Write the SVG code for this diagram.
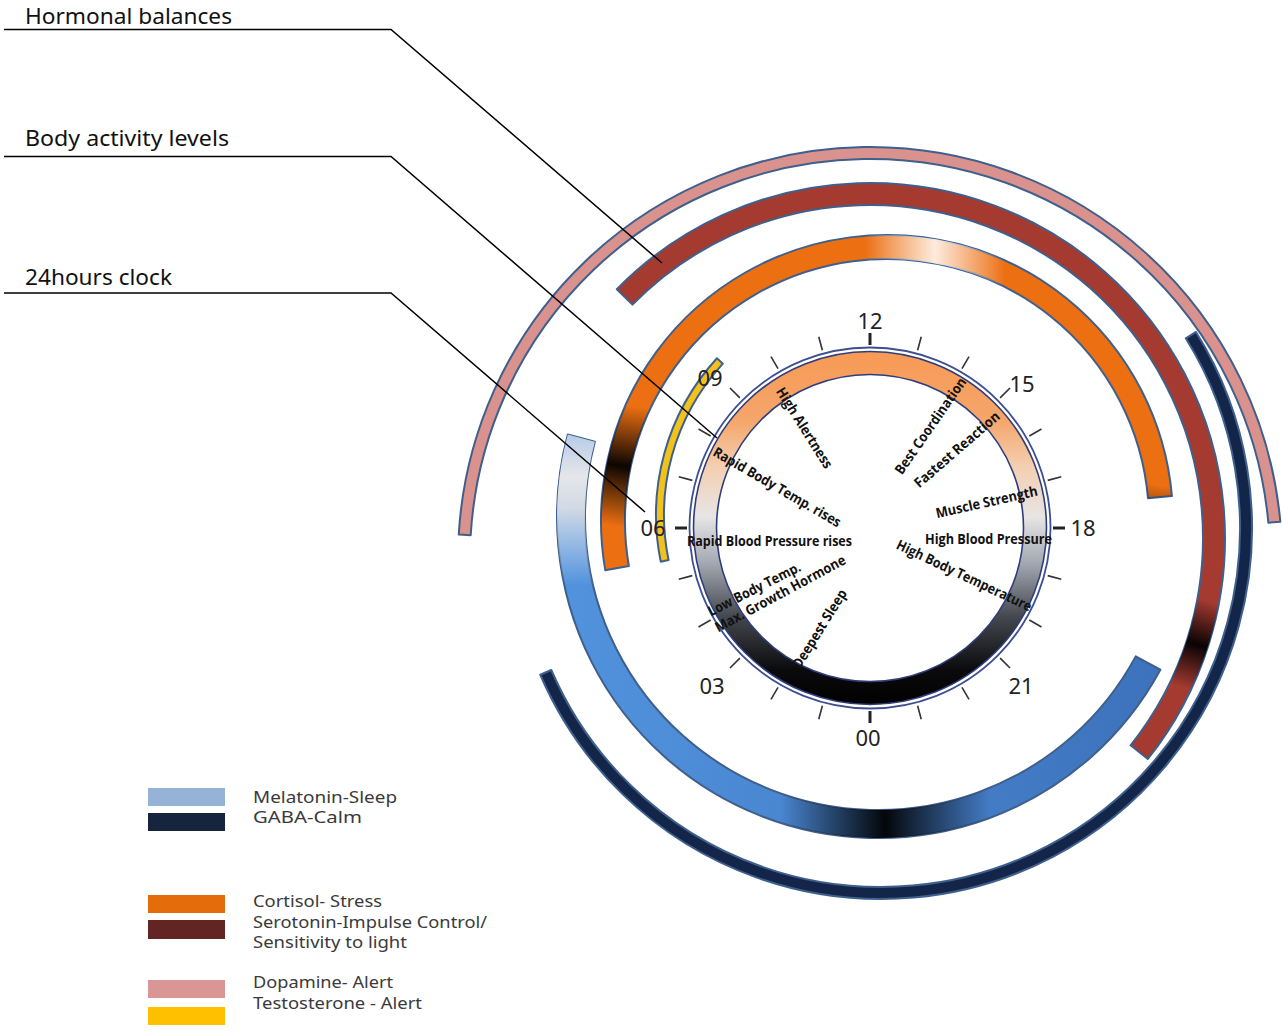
<svg xmlns="http://www.w3.org/2000/svg" width="1282" height="1031" viewBox="0 0 1282 1031">
<style>
.arc{stroke:#3f5f8c;stroke-width:2;stroke-linejoin:round}
.ov{stroke:none}
.lbl{font-family:"Noto Sans","Open Sans",sans-serif;font-size:22px;fill:#111}
.hr{font-family:"Noto Sans","Open Sans",sans-serif;font-size:22px;fill:#222;text-anchor:middle;dominant-baseline:central}
.ev{font-family:"Open Sans","Noto Sans",sans-serif;font-size:14px;font-weight:700;fill:#111;text-anchor:middle;dominant-baseline:central}
.lg{font-family:"Noto Sans","Open Sans",sans-serif;font-size:16px;fill:#3a3a3a}
.tk{stroke:#333;stroke-width:1.6}
.tkM{stroke:#222;stroke-width:3}
.con{fill:none;stroke:#000;stroke-width:1.5}
</style>
<defs>
<linearGradient id="clockG" gradientUnits="userSpaceOnUse" x1="0" y1="350" x2="0" y2="705">
<stop offset="0" stop-color="#f79a55"/>
<stop offset="0.2" stop-color="#f5a66b"/>
<stop offset="0.33" stop-color="#f4cfb2"/>
<stop offset="0.47" stop-color="#e7e5e5"/>
<stop offset="0.6" stop-color="#a4a8b2"/>
<stop offset="0.75" stop-color="#45484f"/>
<stop offset="0.9" stop-color="#0b0b0d"/>
<stop offset="1" stop-color="#000"/>
</linearGradient>
<linearGradient id="orDark" gradientUnits="userSpaceOnUse" x1="625" y1="405" x2="607" y2="525">
<stop offset="0" stop-color="#000" stop-opacity="0"/>
<stop offset="0.5" stop-color="#000" stop-opacity="0.95"/>
<stop offset="1" stop-color="#000" stop-opacity="0"/>
</linearGradient>
<linearGradient id="orLight" gradientUnits="userSpaceOnUse" x1="865" y1="0" x2="1005" y2="0">
<stop offset="0" stop-color="#fff" stop-opacity="0"/>
<stop offset="0.5" stop-color="#fff6ee" stop-opacity="0.92"/>
<stop offset="1" stop-color="#fff" stop-opacity="0"/>
</linearGradient>
<linearGradient id="redDark" gradientUnits="userSpaceOnUse" x1="1212" y1="602" x2="1184" y2="688">
<stop offset="0" stop-color="#000" stop-opacity="0"/>
<stop offset="0.5" stop-color="#000" stop-opacity="0.95"/>
<stop offset="1" stop-color="#000" stop-opacity="0"/>
</linearGradient>
<linearGradient id="blueBase" gradientUnits="userSpaceOnUse" x1="560" y1="0" x2="1160" y2="0">
<stop offset="0" stop-color="#5293de"/>
<stop offset="1" stop-color="#3d72bc"/>
</linearGradient>
<linearGradient id="blueLight" gradientUnits="userSpaceOnUse" x1="0" y1="430" x2="0" y2="585">
<stop offset="0" stop-color="#b2c9e8"/>
<stop offset="0.3" stop-color="#e5e6ea"/>
<stop offset="0.5" stop-color="#e0e2e6" stop-opacity="0.9"/>
<stop offset="1" stop-color="#dfe6f0" stop-opacity="0"/>
</linearGradient>
<linearGradient id="blueDark" gradientUnits="userSpaceOnUse" x1="780" y1="0" x2="990" y2="0">
<stop offset="0" stop-color="#000" stop-opacity="0"/>
<stop offset="0.5" stop-color="#000" stop-opacity="0.95"/>
<stop offset="1" stop-color="#000" stop-opacity="0"/>
</linearGradient>
<path id="pOrange" d="M605.26,570.17 A286,286 0 1 1 1171.91,496.07 L1148.00,498.16 A262,262 0 1 0 628.90,566.05 Z"/>
<path id="pRed" d="M616.80,289.18 A355,355 0 0 1 1147.83,758.99 L1130.61,745.30 A333,333 0 0 0 632.49,304.60 Z"/>
<path id="pBlue" d="M1160.37,669.67 A321,321 0 0 1 567.79,434.46 L594.85,441.66 A293,293 0 0 0 1135.74,656.36 Z"/>
</defs>
<rect width="1282" height="1031" fill="#fff"/>

<g id="dopamine-arc">
<path class="arc" fill="#da928e" d="M458.73,534.57 A412,412 0 0 1 1280.30,521.66 L1268.35,522.75 A400,400 0 0 0 470.70,535.28 Z"/>
</g>
<g id="serotonin-arc">
<use href="#pRed" class="arc" fill="#a53a31"/>
<use href="#pRed" class="ov" fill="url(#redDark)"/>
</g>
<g id="gaba-arc">
<path class="arc" fill="#13264a" stroke="#3b64a0" d="M1195.97,331.95 A371,371 0 1 1 540.26,674.75 L551.28,670.00 A359,359 0 1 0 1185.78,338.29 Z"/>
</g>
<g id="cortisol-arc">
<use href="#pOrange" class="arc" fill="#ec6f12"/>
<use href="#pOrange" class="ov" fill="url(#orDark)"/>
<use href="#pOrange" class="ov" fill="url(#orLight)"/>
</g>
<g id="melatonin-arc">
<use href="#pBlue" class="arc" fill="url(#blueBase)"/>
<use href="#pBlue" class="ov" fill="url(#blueLight)"/>
<use href="#pBlue" class="ov" fill="url(#blueDark)"/>
</g>
<g id="testosterone-arc">
<path class="arc" fill="#f2c21c" d="M660.74,561.65 A232,232 0 0 1 716.95,358.26 L722.85,363.67 A224,224 0 0 0 668.57,560.04 Z"/>
</g>

<g id="clock">
<circle cx="870" cy="528" r="165" fill="none" stroke="url(#clockG)" stroke-width="23"/>
<circle cx="870" cy="528" r="153.5" fill="none" stroke="#2f3d7a" stroke-width="1.6"/>
<circle cx="870" cy="528" r="176.5" fill="none" stroke="#2f3d7a" stroke-width="1.6"/>
<circle cx="870" cy="528" r="180.5" fill="none" stroke="#3d4f8f" stroke-width="1.8"/>
<g id="ticks">
<line class="tkM" x1="870" y1="345" x2="870" y2="333"/>
<line class="tkM" x1="1053" y1="528" x2="1065" y2="528"/>
<line class="tkM" x1="870" y1="711" x2="870" y2="723"/>
<line class="tkM" x1="687" y1="528" x2="675" y2="528"/>
<g transform="translate(870 528)">
<line class="tk" x1="0" y1="-184" x2="0" y2="-198" transform="rotate(15)"/>
<line class="tk" x1="0" y1="-184" x2="0" y2="-198" transform="rotate(30)"/>
<line class="tk" x1="0" y1="-184" x2="0" y2="-198" transform="rotate(45)"/>
<line class="tk" x1="0" y1="-184" x2="0" y2="-198" transform="rotate(60)"/>
<line class="tk" x1="0" y1="-184" x2="0" y2="-198" transform="rotate(75)"/>
<line class="tk" x1="0" y1="-184" x2="0" y2="-198" transform="rotate(105)"/>
<line class="tk" x1="0" y1="-184" x2="0" y2="-198" transform="rotate(120)"/>
<line class="tk" x1="0" y1="-184" x2="0" y2="-198" transform="rotate(135)"/>
<line class="tk" x1="0" y1="-184" x2="0" y2="-198" transform="rotate(150)"/>
<line class="tk" x1="0" y1="-184" x2="0" y2="-198" transform="rotate(165)"/>
<line class="tk" x1="0" y1="-184" x2="0" y2="-198" transform="rotate(195)"/>
<line class="tk" x1="0" y1="-184" x2="0" y2="-198" transform="rotate(210)"/>
<line class="tk" x1="0" y1="-184" x2="0" y2="-198" transform="rotate(225)"/>
<line class="tk" x1="0" y1="-184" x2="0" y2="-198" transform="rotate(240)"/>
<line class="tk" x1="0" y1="-184" x2="0" y2="-198" transform="rotate(255)"/>
<line class="tk" x1="0" y1="-184" x2="0" y2="-198" transform="rotate(285)"/>
<line class="tk" x1="0" y1="-184" x2="0" y2="-198" transform="rotate(300)"/>
<line class="tk" x1="0" y1="-184" x2="0" y2="-198" transform="rotate(315)"/>
<line class="tk" x1="0" y1="-184" x2="0" y2="-198" transform="rotate(330)"/>
<line class="tk" x1="0" y1="-184" x2="0" y2="-198" transform="rotate(345)"/>
</g>
</g>
<g id="hours">
<text class="hr" x="870" y="320">12</text>
<text class="hr" x="1022" y="383">15</text>
<text class="hr" x="1083" y="527">18</text>
<text class="hr" x="1021" y="685">21</text>
<text class="hr" x="868" y="737">00</text>
<text class="hr" x="712" y="685">03</text>
<text class="hr" x="653" y="527">06</text>
<text class="hr" x="710" y="377">09</text>
</g>
<g id="events">
<text class="ev" transform="translate(805 427.5) rotate(57.7)" textLength="93" lengthAdjust="spacingAndGlyphs">High Alertness</text>
<text class="ev" transform="translate(930 425.5) rotate(-55.2)" textLength="114" lengthAdjust="spacingAndGlyphs">Best Coordination</text>
<text class="ev" transform="translate(956.5 449) rotate(-40.9)" textLength="108" lengthAdjust="spacingAndGlyphs">Fastest Reaction</text>
<text class="ev" transform="translate(986.5 501.5) rotate(-12.6)" textLength="104" lengthAdjust="spacingAndGlyphs">Muscle Strength</text>
<text class="ev" transform="translate(988.5 538)" textLength="127" lengthAdjust="spacingAndGlyphs">High Blood Pressure</text>
<text class="ev" transform="translate(964.5 575) rotate(25.4)" textLength="148" lengthAdjust="spacingAndGlyphs">High Body Temperature</text>
<text class="ev" transform="translate(777.5 486.5) rotate(30)" textLength="145" lengthAdjust="spacingAndGlyphs">Rapid Body Temp. rises</text>
<text class="ev" transform="translate(769.5 540)" textLength="165" lengthAdjust="spacingAndGlyphs">Rapid Blood Pressure rises</text>
<text class="ev" transform="translate(754 588.5) rotate(-27)" textLength="102" lengthAdjust="spacingAndGlyphs">Low Body Temp.</text>
<text class="ev" transform="translate(780 593) rotate(-28.3)" textLength="146" lengthAdjust="spacingAndGlyphs">Max. Growth Hormone</text>
<text class="ev" transform="translate(819 628.5) rotate(-58.1)" textLength="90" lengthAdjust="spacingAndGlyphs">Deepest Sleep</text>
</g>
</g>

<g id="connectors">
<path class="con" d="M4,29.5 H391 L662,263"/>
<path class="con" d="M4,156.5 H391 L717,438"/>
<path class="con" d="M4,293 H391 L645,512"/>
</g>

<g id="label-hormonal"><text class="lbl" x="25" y="24" textLength="207" lengthAdjust="spacingAndGlyphs">Hormonal balances</text></g>
<g id="label-body"><text class="lbl" x="25" y="146" textLength="204" lengthAdjust="spacingAndGlyphs">Body activity levels</text></g>
<g id="label-clock"><text class="lbl" x="25" y="285" textLength="147" lengthAdjust="spacingAndGlyphs">24hours clock</text></g>

<g id="legend">
<g id="lg-melatonin"><rect x="148" y="788" width="77" height="18" fill="#95b3d7"/><text class="lg" x="253" y="803" textLength="144" lengthAdjust="spacingAndGlyphs">Melatonin-Sleep</text></g>
<g id="lg-gaba"><rect x="148" y="813" width="77" height="18" fill="#17243d"/><text class="lg" x="253" y="823" textLength="109" lengthAdjust="spacingAndGlyphs">GABA-Calm</text></g>
<g id="lg-cortisol"><rect x="148" y="895" width="77" height="18" fill="#e46c0a"/><text class="lg" x="253" y="907" textLength="129" lengthAdjust="spacingAndGlyphs">Cortisol- Stress</text></g>
<g id="lg-serotonin"><rect x="148" y="920" width="77" height="19" fill="#632523"/><text class="lg" x="253" y="928" textLength="234" lengthAdjust="spacingAndGlyphs">Serotonin-Impulse Control/</text><text class="lg" x="253" y="948" textLength="154" lengthAdjust="spacingAndGlyphs">Sensitivity to light</text></g>
<g id="lg-dopamine"><rect x="148" y="980" width="77" height="18" fill="#d99694"/><text class="lg" x="253" y="988" textLength="140" lengthAdjust="spacingAndGlyphs">Dopamine- Alert</text></g>
<g id="lg-testosterone"><rect x="148" y="1007" width="77" height="18" fill="#ffc000"/><text class="lg" x="253" y="1009" textLength="169" lengthAdjust="spacingAndGlyphs">Testosterone - Alert</text></g>
</g>
</svg>
